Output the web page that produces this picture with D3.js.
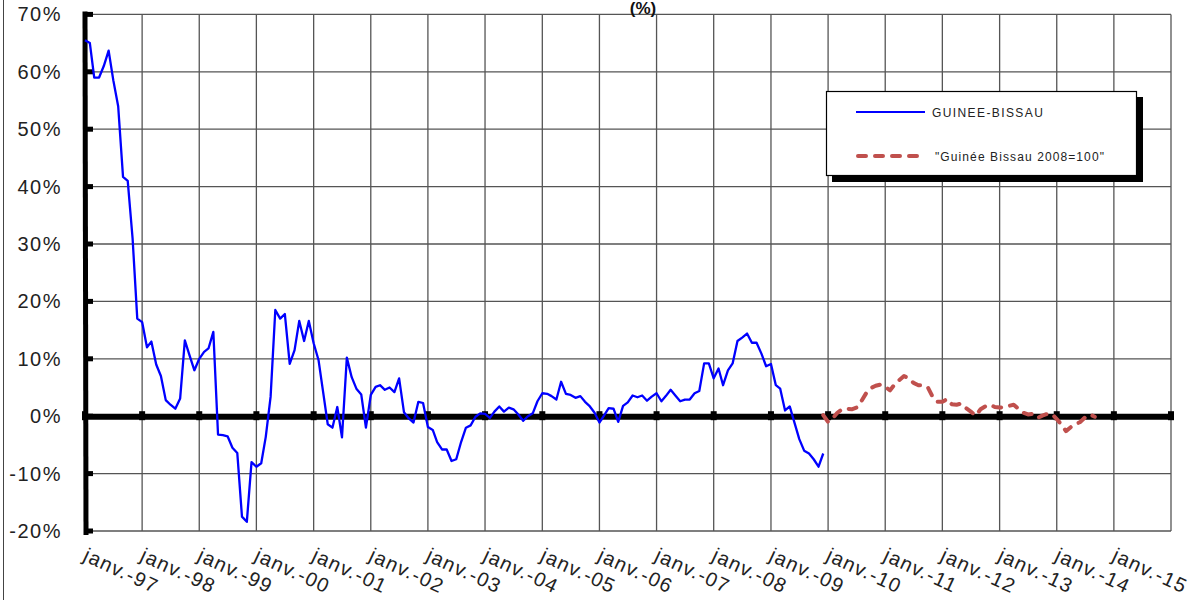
<!DOCTYPE html>
<html>
<head>
<meta charset="utf-8">
<script src="https://cdn.jsdelivr.net/npm/d3@7"></script>
<style>
  html, body { margin: 0; padding: 0; background: #fff; }
  svg { display: block; font-family: "Liberation Sans", Arial, sans-serif; }
</style>
</head>
<body>
<svg id="chart" width="1197" height="600"></svg>
<script>
// ---- data ----
const blueStart = "1997-01";   // GUINEE-BISSAU monthly y/y inflation (%)
const blueValues = [
  65.5, 65, 59, 59, 61, 63.7, 58.5, 54, 41.7, 41, 31, 17,
  16.4, 12, 13, 9, 7, 2.8, 2.0, 1.3, 3.1, 13.2, 10.5, 8,
  10, 11.2, 11.8, 14.7, -3.2, -3.3, -3.5, -5.5, -6.4, -17.5, -18.4, -8,
  -8.8, -8.2, -3.6, 3.4, 18.5, 17, 17.8, 9.1, 11.5, 16.6, 13.1, 16.6,
  12.7, 9.8, 4.5, -1.4, -2.0, 1.6, -3.7, 10.2, 6.8, 4.8, 3.8, -2.0,
  3.7, 5.1, 5.4, 4.6, 5.0, 4.2, 6.6, 0.7, -0.4, -1.1, 2.5, 2.3,
  -1.9, -2.4, -4.5, -5.8, -5.8, -7.8, -7.5, -4.5, -2.0, -1.6, -0.1, 0.5,
  0.4, -0.3, 0.8, 1.7, 0.8, 1.5, 1.2, 0.3, -0.8, 0.0, 0.5, 2.6,
  4.0, 3.9, 3.5, 2.9, 6.0, 3.9, 3.7, 3.2, 3.5, 2.5, 1.7, 0.6,
  -1.1, 0.2, 1.4, 1.3, -1.0, 1.8, 2.4, 3.6, 3.3, 3.6, 2.7, 3.4,
  4.0, 2.6, 3.5, 4.6, 3.6, 2.6, 2.9, 2.9, 4.0, 4.4, 9.2, 9.2,
  6.6, 8.3, 5.4, 8.0, 9.2, 13.1, 13.7, 14.4, 12.8, 12.8, 10.9, 8.7,
  9.1, 5.4, 4.8, 1.0, 1.7, -1.2, -4.0, -6.0, -6.5, -7.5, -8.8, -6.5
];
const redStart = "2009-12";    // "Guinée Bissau 2008=100"
const redValues = [
  0.2, -1.0, -0.3, 0.6, 1.2, 1.3, 1.2, 1.5, 2.6, 4.0, 4.9, 5.3,
  5.5, 5.1, 4.5, 5.5, 6.3, 7.0, 6.6, 5.8, 5.4, 5.4, 5.0, 3.3,
  2.5, 2.5, 3.0, 2.1, 2.0, 2.2, 1.4, 0.8, 0.1, 1.2, 1.7, 2.0,
  1.6, 1.5, 1.6, 1.8, 2.0, 1.3, 0.6, 0.3, 0.4, -0.3, 0.1, 0.4,
  0.4, -0.5, -1.5, -2.6, -1.9, -1.4, -1.0, -0.2, 0.3, -0.1
];
const seriesNames = ["GUINEE-BISSAU", "\"Guinée Bissau 2008=100\""];
const xTickYears = [1997, 1998, 1999, 2000, 2001, 2002, 2003, 2004, 2005, 2006, 2007, 2008, 2009, 2010, 2011, 2012, 2013, 2014, 2015, 2016];
const xLabelYears = [1997, 1998, 1999, 2000, 2001, 2002, 2003, 2004, 2005, 2006, 2007, 2008, 2009, 2010, 2011, 2012, 2013, 2014, 2015];
const yTicks = [-20, -10, 0, 10, 20, 30, 40, 50, 60, 70];
const titleText = "(%)";

// ---- layout ----
const svg = d3.select("#chart");
const L = 85, R = 1171, T = 14.4, B = 531;

const parseM = d3.timeParse("%Y-%m");
function monthly(start, vals) {
  const s = parseM(start);
  return vals.map((v, i) => ({ date: d3.timeMonth.offset(s, i), v }));
}
const blue = monthly(blueStart, blueValues);
const red = monthly(redStart, redValues);

const x = d3.scaleTime().domain([new Date(1997, 0, 1), new Date(2016, 0, 1)]).range([L, R]);
const y = d3.scaleLinear().domain([-20, 70]).range([B, T]);

// chart-area frame (left edge visible)
svg.append("line").attr("x1", 3.5).attr("x2", 3.5).attr("y1", 0).attr("y2", 600)
  .attr("stroke", "#444").attr("stroke-width", 1);

// gridlines
const grid = svg.append("g");
grid.selectAll("line.h").data(yTicks).join("line")
  .attr("x1", L).attr("x2", R).attr("y1", d => y(d)).attr("y2", d => y(d))
  .attr("stroke", "#555").attr("stroke-width", 1.3);
grid.selectAll("line.v").data(xTickYears).join("line")
  .attr("x1", d => x(new Date(d, 0, 1))).attr("x2", d => x(new Date(d, 0, 1)))
  .attr("y1", T).attr("y2", B)
  .attr("stroke", "#555").attr("stroke-width", 1.3);

// title
svg.append("text").attr("x", 643).attr("y", 14).attr("text-anchor", "middle")
  .attr("font-size", 17).attr("font-weight", "bold").attr("fill", "#111").text(titleText);

// y axis labels
svg.append("g").selectAll("text").data(yTicks).join("text")
  .attr("x", 62).attr("y", d => y(d) + 7).attr("text-anchor", "end")
  .attr("font-size", 20).attr("letter-spacing", 1.5).attr("fill", "#222")
  .text(d => d + "%");

// x axis labels (rotated)
svg.append("g").selectAll("text").data(xLabelYears).join("text")
  .attr("transform", d => `translate(${x(new Date(d, 0, 1)) - 3},560) rotate(25)`)
  .attr("font-size", 20).attr("letter-spacing", 1.3).attr("fill", "#222")
  .text(d => "janv.-" + String(d % 100).padStart(2, "0"));

// axes (thick)
const axes = svg.append("g");
axes.append("line").attr("x1", L).attr("x2", L + 1).attr("y1", T - 3).attr("y2", B + 4)
  .attr("stroke", "#000").attr("stroke-width", 5);
axes.selectAll("rect.yt").data(yTicks).join("rect")
  .attr("x", L).attr("y", d => y(d) - 2.5).attr("width", 8).attr("height", 5).attr("fill", "#000");
axes.append("line").attr("x1", L).attr("x2", R).attr("y1", y(0) + 0.5).attr("y2", y(0) + 0.5)
  .attr("stroke", "#000").attr("stroke-width", 6);
axes.selectAll("rect.xt").data(xTickYears).join("rect")
  .attr("x", d => x(new Date(d, 0, 1)) - 3).attr("y", y(0) - 5).attr("width", 6).attr("height", 9)
  .attr("fill", "#000");

// series
const line = d3.line().x(d => x(d.date)).y(d => y(d.v));
svg.append("path").datum(blue).attr("d", line).attr("fill", "none")
  .attr("stroke", "#0000ff").attr("stroke-width", 2.3).attr("stroke-linejoin", "round");
svg.append("path").datum(red).attr("d", line).attr("fill", "none")
  .attr("stroke", "#c0504d").attr("stroke-width", 4).attr("stroke-linecap", "round")
  .attr("stroke-linejoin", "round").attr("stroke-dasharray", "8,9");

// legend
const lg = svg.append("g");
lg.append("rect").attr("x", 832).attr("y", 97).attr("width", 311).attr("height", 85).attr("fill", "#000");
lg.append("rect").attr("x", 826.5).attr("y", 91.5).attr("width", 310).attr("height", 84)
  .attr("fill", "#fff").attr("stroke", "#000").attr("stroke-width", 1.2);
lg.append("line").attr("x1", 856).attr("x2", 925).attr("y1", 112).attr("y2", 112)
  .attr("stroke", "#0000ff").attr("stroke-width", 2);
lg.append("text").attr("x", 932).attr("y", 116.5).attr("font-size", 12).attr("letter-spacing", 1.4)
  .attr("fill", "#222").text(seriesNames[0]);
lg.append("line").attr("x1", 858).attr("x2", 925).attr("y1", 156).attr("y2", 156)
  .attr("stroke", "#c0504d").attr("stroke-width", 4).attr("stroke-linecap", "round")
  .attr("stroke-dasharray", "8,9");
lg.append("text").attr("x", 935).attr("y", 160.5).attr("font-size", 12).attr("letter-spacing", 1.1)
  .attr("fill", "#222").text(seriesNames[1]);
</script>
</body>
</html>
